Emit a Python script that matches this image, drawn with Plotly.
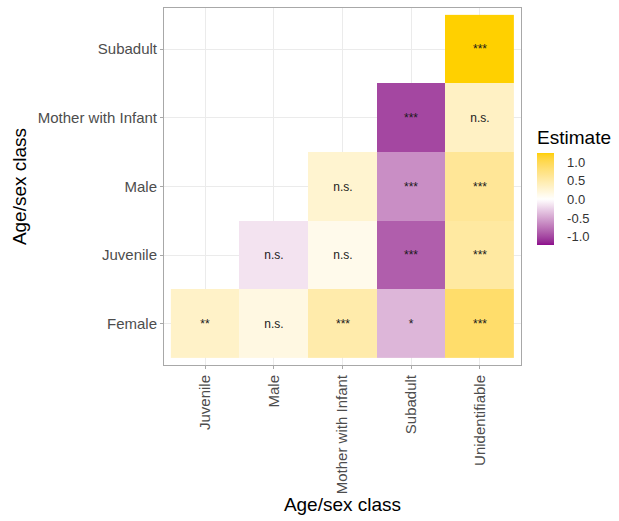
import plotly.graph_objects as go
import numpy as np

# Pairwise comparisons of age/sex classes
x_classes = ["Juvenile", "Male", "Mother with Infant", "Subadult", "Unidentifiable"]
y_classes = ["Female", "Juvenile", "Male", "Mother with Infant", "Subadult"]

est_female = [0.33, 0.17, 0.50, -0.40, 0.87]
est_juvenile = [None, -0.15, 0.12, -0.88, 0.56]
est_male = [None, None, 0.28, -0.62, 0.62]
est_mother = [None, None, None, -1.00, 0.35]
est_subadult = [None, None, None, None, 1.24]

sig_female = ["**", "n.s.", "***", "*", "***"]
sig_juvenile = ["", "n.s.", "n.s.", "***", "***"]
sig_male = ["", "", "n.s.", "***", "***"]
sig_mother = ["", "", "", "***", "n.s."]
sig_subadult = ["", "", "", "", "***"]

z = [est_female, est_juvenile, est_male, est_mother, est_subadult]
sig = [sig_female, sig_juvenile, sig_male, sig_mother, sig_subadult]

zmin, zmax = -1.22, 1.24

FONT = "Liberation Sans, Arial"


# Diverging purple - white - gold scale interpolated in CIE Lab
def srgb_to_lab(rgb):
    c = np.array(rgb) / 255.0
    c = np.where(c > 0.04045, ((c + 0.055) / 1.055) ** 2.4, c / 12.92)
    m = np.array([[0.4124, 0.3576, 0.1805],
                  [0.2126, 0.7152, 0.0722],
                  [0.0193, 0.1192, 0.9505]])
    xyz = m @ c / np.array([0.95047, 1.0, 1.08883])
    f = np.where(xyz > 0.008856, np.cbrt(xyz), 7.787 * xyz + 16 / 116)
    return np.array([116 * f[1] - 16, 500 * (f[0] - f[1]), 200 * (f[1] - f[2])])


def lab_to_srgb(lab):
    L, a, b = lab
    fy = (L + 16) / 116
    fx = fy + a / 500
    fz = fy - b / 200
    f = np.array([fx, fy, fz])
    xyz = np.where(f ** 3 > 0.008856, f ** 3, (f - 16 / 116) / 7.787)
    xyz = xyz * np.array([0.95047, 1.0, 1.08883])
    m = np.array([[3.2406, -1.5372, -0.4986],
                  [-0.9689, 1.8758, 0.0415],
                  [0.0557, -0.2040, 1.0570]])
    c = m @ xyz
    c = np.where(c > 0.0031308, 1.055 * np.clip(c, 0, None) ** (1 / 2.4) - 0.055, 12.92 * c)
    c = np.clip(c, 0, 1) * 255
    return "rgb(%d,%d,%d)" % tuple(np.round(c).astype(int))


low = srgb_to_lab((139, 0, 139))
mid = srgb_to_lab((255, 255, 255))
high = srgb_to_lab((255, 208, 0))

span = max(abs(zmin), abs(zmax))
stops = []
for v in np.linspace(zmin, zmax, 41):
    t = v / span
    if t < 0:
        lab = mid + (low - mid) * (-t)
    else:
        lab = mid + (high - mid) * t
    stops.append([(v - zmin) / (zmax - zmin), lab_to_srgb(lab)])
stops[0][0] = 0.0
stops[-1][0] = 1.0

fig = go.Figure(
    go.Heatmap(
        x=x_classes,
        y=y_classes,
        z=z,
        text=sig,
        texttemplate="%{text}",
        textfont=dict(size=12, color="#1a1a1a", family=FONT),
        colorscale=stops,
        zmin=zmin,
        zmax=zmax,
        xgap=0,
        ygap=0,
        hoverongaps=False,
        colorbar=dict(
            title=dict(text="Estimate", side="top",
                       font=dict(size=19, color="#000000", family=FONT)),
            x=1.045,
            xanchor="left",
            y=0.336,
            yanchor="bottom",
            len=118,
            lenmode="pixels",
            thickness=17,
            thicknessmode="pixels",
            outlinewidth=0,
            tickvals=[-1.0, -0.5, 0.0, 0.5, 1.0],
            ticktext=["-1.0", "-0.5", "0.0", "0.5", "1.0"],
            ticks="outside",
            ticklen=11,
            tickcolor="rgba(255,255,255,0)",
            tickfont=dict(size=13, color="#333333", family=FONT),
            xpad=0,
            ypad=0,
        ),
    )
)

axis_common = dict(
    type="category",
    range=[-0.6, 4.6],
    showgrid=True,
    gridcolor="#EBEBEB",
    gridwidth=1,
    showline=True,
    linecolor="#A8A8A8",
    linewidth=1,
    mirror=True,
    ticks="outside",
    ticklen=3,
    tickcolor="#A8A8A8",
    tickfont=dict(size=15, color="#4D4D4D", family=FONT),
    zeroline=False,
)

fig.update_xaxes(
    **axis_common,
    tickangle=-90,
    title=dict(text="Age/sex class", standoff=4,
               font=dict(size=19, color="#000000", family=FONT)),
)
fig.update_yaxes(
    **axis_common,
    title=dict(text="Age/sex class", standoff=6,
               font=dict(size=19, color="#000000", family=FONT)),
)

fig.update_layout(
    width=619,
    height=521,
    margin=dict(l=164, r=98, t=8, b=156),
    plot_bgcolor="white",
    paper_bgcolor="white",
    font=dict(family=FONT),
)

fig.write_html("out.html")
